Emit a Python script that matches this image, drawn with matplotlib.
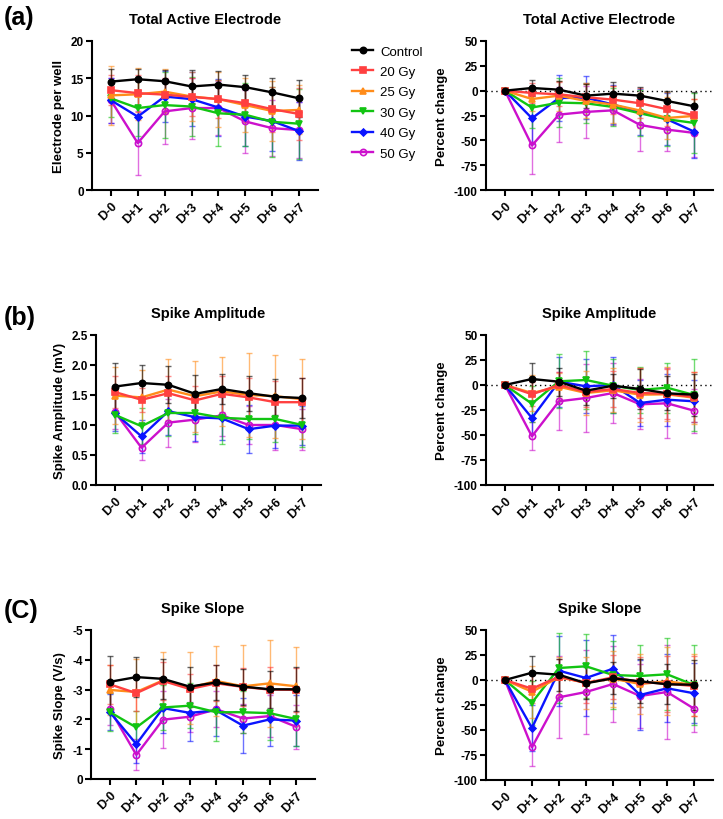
import matplotlib
matplotlib.use("Agg")
import matplotlib.pyplot as plt
import numpy as np

plt.rcParams['font.family'] = ['Liberation Sans', 'DejaVu Sans']
plt.rcParams['axes.unicode_minus'] = False

days = ["D-0", "D+1", "D+2", "D+3", "D+4", "D+5", "D+6", "D+7"]
groups = ["Control", "20 Gy", "25 Gy", "30 Gy", "40 Gy", "50 Gy"]
colors = ["#000000", "#FF4040", "#FF8C1A", "#12C412", "#0A14FF", "#CC10CC"]
markers = ["o", "s", "^", "v", "D", "o"]

# ---- (a) Total Active Electrode: electrodes per well (mean, SD)
tae_mean = {
    "Control": [14.55, 14.87, 14.6, 13.9, 14.15, 13.8, 13.1, 12.3],
    "20 Gy":   [13.4, 13.0, 12.8, 12.5, 12.2, 11.65, 10.85, 10.2],
    "25 Gy":   [12.7, 12.85, 13.2, 12.55, 12.2, 11.4, 10.6, 10.75],
    "30 Gy":   [12.3, 11.0, 11.4, 11.2, 10.3, 10.1, 9.15, 8.9],
    "40 Gy":   [12.05, 9.85, 12.55, 12.2, 11.07, 9.85, 9.25, 7.9],
    "50 Gy":   [12.05, 6.3, 10.55, 11.0, 11.0, 9.2, 8.3, 8.05],
}
tae_sd = {
    "Control": [1.65, 1.4, 1.5, 2.2, 1.8, 1.7, 2.0, 2.5],
    "20 Gy":   [2.0, 2.5, 2.3, 2.5, 2.5, 2.5, 3.0, 3.5],
    "25 Gy":   [4.0, 3.5, 3.0, 3.3, 3.7, 3.6, 4.0, 3.3],
    "30 Gy":   [2.5, 3.7, 4.4, 4.0, 4.4, 4.2, 4.7, 4.7],
    "40 Gy":   [3.0, 3.4, 3.4, 3.6, 3.8, 3.9, 4.0, 3.9],
    "50 Gy":   [3.0, 4.3, 4.4, 4.1, 3.6, 4.2, 3.8, 3.7],
}
tae_pct_mean = {
    "Control": [0, 2.7, 1.0, -5.0, -3.0, -5.0, -10.4, -15.7],
    "20 Gy":   [0, -2.3, -3.7, -6.7, -9.0, -12.7, -18.7, -24.8],
    "25 Gy":   [0, -8.4, -5.0, -10.4, -14.0, -20.0, -27.5, -25.4],
    "30 Gy":   [0, -17.0, -12.0, -12.7, -16.4, -22.8, -28.8, -32.5],
    "40 Gy":   [0, -27.8, -7.4, -7.0, -14.0, -21.8, -28.8, -41.2],
    "50 Gy":   [0, -55.2, -24.1, -21.4, -19.8, -34.5, -39.2, -42.5],
}
tae_pct_sd = {
    "Control": [0, 8.5, 9, 12, 12, 9, 10, 14],
    "20 Gy":   [0, 10, 12, 14, 14, 15, 17, 16],
    "25 Gy":   [0, 12, 15, 17, 19, 18, 21, 17],
    "30 Gy":   [0, 21, 25, 20, 19, 23, 27, 30],
    "40 Gy":   [0, 26, 23, 22, 20, 23, 26, 27],
    "50 Gy":   [0, 29, 28, 26, 15, 26, 22, 24],
}

# ---- (b) Spike Amplitude (mV)
amp_mean = {
    "Control": [1.64, 1.70, 1.67, 1.52, 1.60, 1.53, 1.47, 1.45],
    "20 Gy":   [1.55, 1.42, 1.53, 1.41, 1.52, 1.46, 1.38, 1.38],
    "25 Gy":   [1.49, 1.46, 1.59, 1.48, 1.56, 1.50, 1.48, 1.43],
    "30 Gy":   [1.17, 0.98, 1.20, 1.20, 1.12, 1.10, 1.10, 1.00],
    "40 Gy":   [1.20, 0.81, 1.23, 1.13, 1.11, 0.93, 0.99, 0.99],
    "50 Gy":   [1.22, 0.62, 1.04, 1.09, 1.16, 1.00, 1.00, 0.93],
}
amp_sd = {
    "Control": [0.40, 0.30, 0.31, 0.32, 0.25, 0.29, 0.30, 0.34],
    "20 Gy":   [0.27, 0.20, 0.28, 0.24, 0.30, 0.33, 0.36, 0.40],
    "25 Gy":   [0.47, 0.45, 0.51, 0.59, 0.58, 0.70, 0.69, 0.67],
    "30 Gy":   [0.30, 0.30, 0.38, 0.35, 0.43, 0.33, 0.38, 0.37],
    "40 Gy":   [0.30, 0.28, 0.40, 0.40, 0.36, 0.40, 0.37, 0.33],
    "50 Gy":   [0.28, 0.21, 0.40, 0.38, 0.35, 0.32, 0.42, 0.34],
}
amp_pct_mean = {
    "Control": [0, 6.0, 3.3, -5.7, -0.7, -4.0, -8.3, -9.7],
    "20 Gy":   [0, -9.3, 0.0, -7.0, -4.0, -8.0, -8.7, -12.0],
    "25 Gy":   [0, -8.0, -1.7, -8.0, -5.3, -9.7, -9.3, -12.7],
    "30 Gy":   [0, -18.7, 3.7, 5.0, -0.7, -5.0, -2.7, -10.0],
    "40 Gy":   [0, -33.0, 3.3, -1.3, 0.0, -18.0, -14.7, -16.3],
    "50 Gy":   [0, -51.3, -16.3, -13.0, -8.0, -19.3, -18.3, -25.7],
}
amp_pct_sd = {
    "Control": [0, 15.7, 14, 14, 12, 20, 17, 21],
    "20 Gy":   [0, 12, 13, 15, 18, 25, 25, 25],
    "25 Gy":   [0, 18, 14, 22, 22, 27, 27, 26],
    "30 Gy":   [0, 18, 27, 29, 27, 23, 25, 36],
    "40 Gy":   [0, 16, 25, 27, 28, 23, 26, 21],
    "50 Gy":   [0, 14, 29, 34, 30, 25, 35, 22],
}

# ---- (c) Spike Slope (V/s)
slope_mean = {
    "Control": [-3.26, -3.42, -3.36, -3.10, -3.24, -3.10, -3.01, -3.01],
    "20 Gy":   [-3.18, -2.88, -3.29, -3.02, -3.21, -3.09, -3.00, -2.99],
    "25 Gy":   [-2.99, -2.92, -3.31, -3.06, -3.29, -3.11, -3.21, -3.11],
    "30 Gy":   [-2.25, -1.73, -2.40, -2.46, -2.24, -2.24, -2.21, -2.01],
    "40 Gy":   [-2.25, -1.17, -2.38, -2.22, -2.30, -1.79, -2.00, -1.96],
    "50 Gy":   [-2.35, -0.81, -1.99, -2.09, -2.34, -2.03, -2.11, -1.75],
}
slope_sd = {
    "Control": [0.88, 0.66, 0.66, 0.67, 0.58, 0.60, 0.63, 0.74],
    "20 Gy":   [0.65, 0.60, 0.65, 0.50, 0.60, 0.65, 0.75, 0.75],
    "25 Gy":   [0.85, 1.10, 0.95, 1.20, 1.17, 1.40, 1.45, 1.33],
    "30 Gy":   [0.65, 0.55, 0.75, 0.75, 0.95, 0.70, 0.90, 0.90],
    "40 Gy":   [0.60, 0.62, 0.85, 0.95, 0.85, 0.92, 0.88, 0.85],
    "50 Gy":   [0.55, 0.52, 0.96, 0.50, 0.60, 0.50, 0.70, 0.75],
}
slope_pct_mean = {
    "Control": [0, 7.3, 5.3, -3.3, 1.7, -1.3, -4.3, -4.7],
    "20 Gy":   [0, -8.7, 3.3, -3.0, 2.7, -2.0, -3.7, -6.0],
    "25 Gy":   [0, -11.7, 2.7, -2.7, 1.3, -4.0, -1.3, -5.0],
    "30 Gy":   [0, -22.7, 12.0, 13.7, 5.0, 4.0, 5.7, -5.0],
    "40 Gy":   [0, -48.0, 9.3, 2.0, 11.3, -15.0, -8.3, -13.3],
    "50 Gy":   [0, -67.3, -17.3, -12.0, -4.0, -16.0, -12.0, -28.7],
}
slope_pct_sd = {
    "Control": [0, 17, 16, 16, 16, 22, 20, 25],
    "20 Gy":   [0, 14, 18, 20, 22, 25, 28, 30],
    "25 Gy":   [0, 26, 20, 26, 28, 30, 34, 31],
    "30 Gy":   [0, 22, 35, 32, 34, 31, 36, 40],
    "40 Gy":   [0, 23, 35, 38, 34, 35, 34, 30],
    "50 Gy":   [0, 19, 41, 42, 38, 32, 47, 23],
}

fig = plt.figure(figsize=(7.23, 8.20), dpi=100)
W, H = 723.0, 820.0

def make_ax(x0, x1, ytop, ybot):
    return fig.add_axes([x0 / W, 1 - ybot / H, (x1 - x0) / W, (ybot - ytop) / H])

def draw(ax, means, sds, title, ylabel, ylim, yticks, pct=False, yticklabels=None):
    x = np.arange(len(days))
    order = list(range(len(groups)))[::-1]
    for i in order:
        g = groups[i]
        m = np.array(means[g]); s = np.array(sds[g])
        ax.errorbar(x, m, yerr=s, fmt='none', ecolor=colors[i], elinewidth=1.0,
                    capsize=2.5, capthick=1.0, alpha=0.6, zorder=2)
    for i in order:
        g = groups[i]
        m = np.array(means[g])
        mfc = 'none' if i == 5 else colors[i]
        ms = 4.5 if markers[i] != 'D' else 3.5
        ax.plot(x, m, color=colors[i], lw=1.7, marker=markers[i], ms=ms,
                mfc=mfc, mec=colors[i], mew=1.2, zorder=3, label=g)
    if pct:
        ax.axhline(0, color='black', lw=1.0, ls=(0, (1, 2.5)), zorder=1)
    ax.set_xlim(-0.7, 7.7)
    ax.set_ylim(*ylim)
    ax.set_yticks(yticks)
    if yticklabels is not None:
        ax.set_yticklabels(yticklabels)
    ax.set_xticks(x)
    ax.set_xticklabels(days, rotation=45, ha='right', rotation_mode='anchor')
    for sp in ['top', 'right']:
        ax.spines[sp].set_visible(False)
    for sp in ['left', 'bottom']:
        ax.spines[sp].set_linewidth(1.5)
    ax.tick_params(axis='both', direction='out', width=1.5, length=4)
    ax.tick_params(axis='y', labelsize=8.5, pad=2)
    ax.tick_params(axis='x', labelsize=9, pad=3)
    for lab in ax.get_xticklabels() + ax.get_yticklabels():
        lab.set_fontweight('bold')
    ax.set_title(title, fontsize=10.5, fontweight='bold', pad=13)
    ax.set_ylabel(ylabel, fontsize=9.5, fontweight='bold', labelpad=4)

pct_ticks = [-100, -75, -50, -25, 0, 25, 50]

ax1 = make_ax(92, 318, 42, 191)
draw(ax1, tae_mean, tae_sd, "Total Active Electrode", "Electrode per well",
     (0, 20), [0, 5, 10, 15, 20])
ax2 = make_ax(486, 713, 42, 191)
draw(ax2, tae_pct_mean, tae_pct_sd, "Total Active Electrode", "Percent change",
     (-100, 50), pct_ticks, pct=True)

ax3 = make_ax(96, 321, 336, 486)
draw(ax3, amp_mean, amp_sd, "Spike Amplitude", "Spike Amplitude (mV)",
     (0, 2.5), [0.0, 0.5, 1.0, 1.5, 2.0, 2.5],
     yticklabels=["0.0", "0.5", "1.0", "1.5", "2.0", "2.5"])
ax4 = make_ax(486, 713, 336, 486)
draw(ax4, amp_pct_mean, amp_pct_sd, "Spike Amplitude", "Percent change",
     (-100, 50), pct_ticks, pct=True)

ax5 = make_ax(91, 315, 631, 780)
draw(ax5, slope_mean, slope_sd, "Spike Slope", "Spike Slope (V/s)",
     (0, -5), [0, -1, -2, -3, -4, -5])
ax6 = make_ax(486, 713, 631, 781)
draw(ax6, slope_pct_mean, slope_pct_sd, "Spike Slope", "Percent change",
     (-100, 50), pct_ticks, pct=True)

# panel labels
fig.text(4 / W, 1 - 18 / H, "(a)", fontsize=18, fontweight='bold', va='center', ha='left')
fig.text(4 / W, 1 - 318 / H, "(b)", fontsize=18, fontweight='bold', va='center', ha='left')
fig.text(4 / W, 1 - 611 / H, "(C)", fontsize=18, fontweight='bold', va='center', ha='left')

# legend
handles, labels = ax1.get_legend_handles_labels()
hl = dict(zip(labels, handles))
fig.legend([hl[g] for g in groups], groups, loc='upper left',
           bbox_to_anchor=(347 / W, 1 - 41 / H), frameon=False, fontsize=9.5,
           handlelength=1.6, handletextpad=0.5, labelspacing=0.62, borderaxespad=0)

fig.savefig("out.png", dpi=100)
